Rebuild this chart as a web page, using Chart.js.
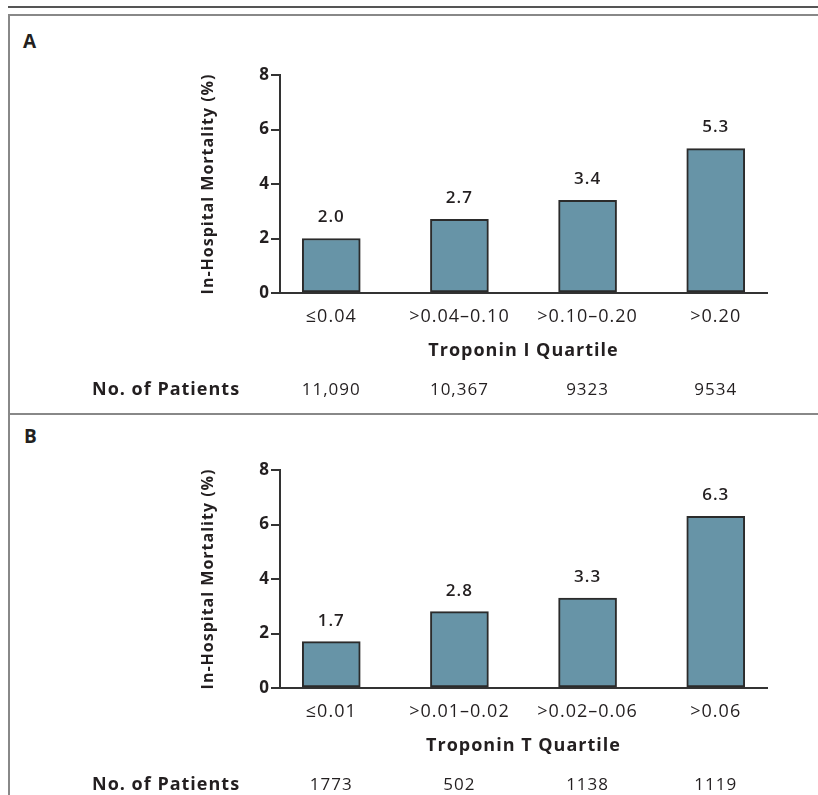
<!DOCTYPE html>
<html>
<head>
<meta charset="utf-8">
<script src="https://cdn.jsdelivr.net/npm/chart.js@4.4.1/dist/chart.umd.min.js"></script>
<style>
  body { margin: 0; width: 818px; height: 795px; overflow: hidden; background: #fff; position: relative; font-family: 'Open Sans', sans-serif; }
  .line { position: absolute; }
  .letter { position: absolute; font-weight: bold; font-size: 19px; color: #231f20; }
  canvas { position: absolute; left: 10px; }
</style>
</head>
<body>
<div class="line" style="left:8px; top:6px; width:810px; height:2px; background:#555;"></div>
<div class="line" style="left:8px; top:14px; width:810px; height:2px; background:#888;"></div>
<div class="line" style="left:8px; top:14px; width:2px; height:781px; background:#888;"></div>
<div class="line" style="left:8px; top:413px; width:810px; height:2px; background:#888;"></div>
<div class="letter" style="left:23px; top:28px;">A</div>
<div class="letter" style="left:24px; top:423px;">B</div>
<canvas id="chartA" width="808" height="397" style="top:16px;"></canvas>
<canvas id="chartB" width="808" height="397" style="top:411px;"></canvas>
<script>
// panel A - troponin I
const troponinILabels = ['≤0.04', '>0.04–0.10', '>0.10–0.20', '>0.20'];
const troponinIMortality = [2.0, 2.7, 3.4, 5.3];
const troponinIPatients = ['11,090', '10,367', '9323', '9534'];

// panel B - troponin T
const troponinTLabels = ['≤0.01', '>0.01–0.02', '>0.02–0.06', '>0.06'];
const troponinTMortality = [1.7, 2.8, 3.3, 6.3];
const troponinTPatients = ['1773', '502', '1138', '1119'];

const yTicks = [0, 2, 4, 6, 8];

const textColor = '#231f20';
const axisColor = '#333';
const fontFamily = "'Open Sans', sans-serif";

Chart.defaults.font.family = fontFamily;
Chart.defaults.color = textColor;

// the original type is set a bit loose, so widen the letters
var spacing = {
	id: 'spacing',
	beforeUpdate(chart) { chart.ctx.letterSpacing = '1px'; },
	beforeDraw(chart) { chart.ctx.letterSpacing = '1px'; }
};

var barLabels = {
	id: 'barLabels',
	afterDatasetsDraw(chart, args, opts) {
		var ctx = chart.ctx;
		var x = chart.scales.x, y = chart.scales.y;
		ctx.save();
		ctx.fillStyle = textColor;
		ctx.textAlign = 'center';
		ctx.textBaseline = 'middle';
		ctx.font = '600 17px ' + fontFamily;
		opts.values.forEach(function(v, i) {
			ctx.fillText(v.toFixed(1), x.getPixelForValue(i), y.getPixelForValue(v) - 21);
		});
		ctx.font = '17px ' + fontFamily;
		opts.patients.forEach(function(p, i) {
			ctx.fillText(p, x.getPixelForValue(i), 374);
		});
		ctx.font = 'bold 18px ' + fontFamily;
		ctx.textAlign = 'left';
		ctx.fillText('No. of Patients', 82, 374);
		ctx.restore();
	}
};

function makeChart(id, labels, values, patients, xTitle) {
	var ctx = document.getElementById(id).getContext('2d');
	return new Chart(ctx, {
		type: 'bar',
		data: {
			datasets: [{
				data: values.map(function(v, i) { return {x: i, y: v}; }),
				backgroundColor: '#6794a7',
				borderColor: '#2b2b2b',
				borderWidth: 2,
				borderSkipped: false,
				barThickness: 58
			}]
		},
		options: {
			responsive: false,
			animation: false,
			layout: { padding: { left: 0, top: 59, right: 51, bottom: 0 } },
			plugins: {
				legend: { display: false },
				tooltip: { enabled: false },
				barLabels: { values: values, patients: patients }
			},
			scales: {
				x: {
					type: 'linear',
					offset: false,
					bounds: 'ticks',
					min: -0.4,
					max: 3.4,
					afterBuildTicks: function(s) { s.ticks = labels.map(function(l, i) { return {value: i}; }); },
					afterFit: function(s) { s.height = 120; },
					grid: { display: false, drawTicks: false, offset: false },
					border: { display: true, color: axisColor, width: 2 },
					ticks: {
						padding: 13,
						autoSkip: false,
						maxRotation: 0,
						font: { size: 18 },
						color: textColor,
						callback: function(v) { return labels[v]; }
					},
					title: {
						display: true,
						text: xTitle,
						font: { size: 18, weight: 'bold' },
						color: textColor,
						padding: { top: 0, bottom: 51 }
					}
				},
				y: {
					min: 0,
					max: 8,
					afterBuildTicks: function(s) { s.ticks = yTicks.map(function(v) { return {value: v}; }); },
					afterFit: function(s) { s.width = 270; },
					grid: { drawOnChartArea: false, drawTicks: true, tickLength: 9, color: axisColor, lineWidth: 2 },
					border: { display: true, color: axisColor, width: 2 },
					ticks: {
						padding: 1,
						font: { size: 17, weight: 'bold' },
						color: textColor
					},
					title: {
						display: true,
						text: 'In-Hospital Mortality (%)',
						font: { size: 16, weight: 'bold' },
						color: textColor,
						padding: { top: 189, bottom: 0 }
					}
				}
			}
		},
		plugins: [spacing, barLabels]
	});
}

makeChart('chartA', troponinILabels, troponinIMortality, troponinIPatients, 'Troponin I Quartile');
makeChart('chartB', troponinTLabels, troponinTMortality, troponinTPatients, 'Troponin T Quartile');
</script>
</body>
</html>
